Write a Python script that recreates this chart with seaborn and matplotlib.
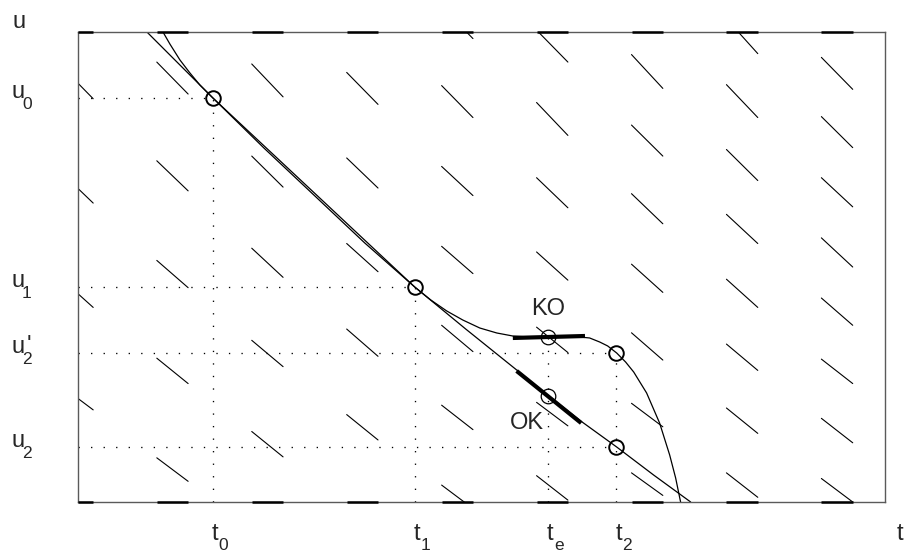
import numpy as np
import pandas as pd
import matplotlib
matplotlib.use("Agg")
import matplotlib.pyplot as plt
import matplotlib.transforms as mtransforms
import seaborn as sns

# ---------------- data ----------------
# tick positions / labels (main letter, subscript)
t_ticks = [1.42, 3.55, 4.95, 5.67]
t_main = ["t", "t", "t", "t"]
t_subs = ["0", "1", "e", "2"]
u_ticks = [0.59, 1.59, 2.29, 4.30]
u_main = ["u", "u", "u", "u"]
u_subs = ["2", "2", "1", "0"]
u_primes = ["", "'", "", ""]

t0, t1, te, t2 = t_ticks
u2, u2p, u1, u0 = u_ticks
ko_u = 1.76
ok_u = 1.13

# direction field: column centres and start/end u of each short segment
field_t = [0, 1, 2, 3, 4, 5, 6, 7, 8]
field_u_start = [
    [4.63, 3.50, 2.37, 1.23],
    [4.68, 3.63, 2.57, 1.53, 0.47],
    [4.66, 3.68, 2.70, 1.72, 0.75],
    [4.57, 3.66, 2.75, 1.84, 0.93],
    [5.27, 4.43, 3.57, 2.72, 1.88, 1.03, 0.18],
    [5.02, 4.25, 3.45, 2.66, 1.86, 1.06, 0.28],
    [4.76, 4.01, 3.28, 2.53, 1.80, 1.05, 0.31],
    [5.14, 4.44, 3.75, 3.06, 2.37, 1.68, 1.00, 0.31],
    [4.73, 4.10, 3.45, 2.81, 2.17, 1.52, 0.89, 0.25],
]
field_u_end = [
    [4.29, 3.18, 2.07, 0.98],
    [4.34, 3.31, 2.28, 1.26, 0.22],
    [4.31, 3.35, 2.39, 1.44, 0.48],
    [4.23, 3.34, 2.45, 1.55, 0.66],
    [4.93, 4.09, 3.26, 2.43, 1.60, 0.77, -0.07],
    [4.68, 3.90, 3.13, 2.36, 1.59, 0.81, 0.02],
    [4.40, 3.68, 2.96, 2.23, 1.51, 0.80, 0.07],
    [4.77, 4.09, 3.42, 2.75, 2.07, 1.40, 0.73, 0.05],
    [4.39, 3.77, 3.14, 2.50, 1.88, 1.26, 0.63, 0.00],
]
seg_left = 0.17
seg_right = 0.16

# solution through u0 / u1 (almost straight)
lineA_t = [0.726, 1.421, 2.484, 3.547, 4.084, 4.621, 4.947, 5.295, 5.674, 6.063, 6.453]
lineA_u = [5.0, 4.298, 3.293, 2.287, 1.840, 1.404, 1.138, 0.862, 0.585, 0.287, 0.0]

# curved solution (KO branch)
curveB_t = [0.895, 0.968, 1.074, 1.179, 1.284, 1.421, 1.958, 2.484, 3.021, 3.547,
            3.716, 3.884, 4.053, 4.232, 4.411, 4.579, 4.758, 4.947, 5.126, 5.284,
            5.389, 5.495, 5.579, 5.674, 5.768, 5.853, 5.989, 6.126, 6.232, 6.295, 6.347]
curveB_u = [5.0, 4.872, 4.702, 4.564, 4.436, 4.298, 3.766, 3.266, 2.755, 2.287,
            2.149, 2.032, 1.936, 1.851, 1.798, 1.766, 1.755, 1.755, 1.755, 1.755,
            1.745, 1.702, 1.660, 1.585, 1.489, 1.383, 1.160, 0.840, 0.500, 0.255, 0.0]

# thick slope segments
ko_seg_t = [4.58, 5.34]
ko_seg_u = [1.745, 1.766]
ok_seg_t = [4.62, 5.30]
ok_seg_u = [1.394, 0.840]

x_lim = (0, 8.5)
y_lim = (0, 5)

# ---------------- style ----------------
sns.set_theme(style="white")
plt.rcParams["font.family"] = ["Liberation Sans", "DejaVu Sans"]

W, H, DPI = 905, 554, 100
fig = plt.figure(figsize=(W / DPI, H / DPI), dpi=DPI)
ax = fig.add_axes([78 / W, 52 / H, 807 / W, 470 / H])
ax.set_xlim(*x_lim)
ax.set_ylim(*y_lim)

# direction field via seaborn
rows = []
sid = 0
for tc, us, ue in zip(field_t, field_u_start, field_u_end):
    for a, b in zip(us, ue):
        rows.append({"seg": sid, "t": tc - seg_left, "u": a})
        rows.append({"seg": sid, "t": tc + seg_right, "u": b})
        sid += 1
field_df = pd.DataFrame(rows)
sns.lineplot(data=field_df, x="t", y="u", units="seg", estimator=None, sort=False,
             color="black", lw=0.8, ax=ax, legend=False)

# boundary artefacts (segments flattened on the frame)
for tc in field_t:
    xs = np.clip([tc - seg_left, tc + seg_right], *x_lim)
    for yb in y_lim:
        ax.plot(xs, [yb, yb], color="black", lw=1.8, clip_on=False, zorder=4,
                solid_capstyle="butt")

# dotted guides
dot = (0, (1, 8.5))
guide_kw = dict(color="black", lw=0.95, ls=dot)
for t, u in [(t0, u0), (t1, u1), (t2, u2p), (t2, u2)]:
    ax.plot([0, t], [u, u], **guide_kw)
for t, u in [(t0, u0), (t1, u1), (te, ko_u), (t2, u2p)]:
    ax.plot([t, t], [0, u], **guide_kw)

# solution curves
curves = pd.concat([
    pd.DataFrame({"t": lineA_t, "u": lineA_u, "c": "A"}),
    pd.DataFrame({"t": curveB_t, "u": curveB_u, "c": "B"}),
])
sns.lineplot(data=curves, x="t", y="u", units="c", estimator=None, sort=False,
             color="black", lw=0.9, ax=ax, legend=False)

# thick slopes
ax.plot(ko_seg_t, ko_seg_u, color="black", lw=3.0, solid_capstyle="butt", zorder=5)
ax.plot(ok_seg_t, ok_seg_u, color="black", lw=3.0, solid_capstyle="butt", zorder=5)

# circles
ax.plot([t0, t1, t2, t2], [u0, u1, u2p, u2], ls="none", marker="o", ms=10.5,
        mfc="none", mec="black", mew=1.4, zorder=6)
ax.plot([te, te], [ko_u, ok_u], ls="none", marker="o", ms=10.5,
        mfc="none", mec="black", mew=0.9, zorder=6)

ax.text(4.947, 2.053, "KO", ha="center", va="center", fontsize=17)
ax.text(4.726, 0.840, "OK", ha="center", va="center", fontsize=17)

# frame
for s in ax.spines.values():
    s.set_visible(True)
    s.set_color("#5a5a5a")
    s.set_linewidth(1.0)

ax.set_xticks([])
ax.set_yticks([])
ax.set_xlabel("")
ax.set_ylabel("")

# tick labels with MATLAB-like large, low subscripts
MAIN_FS, SUB_FS = 17, 12.5


def px(dx, dy):
    return mtransforms.ScaledTranslation(dx / DPI, dy / DPI, fig.dpi_scale_trans)


x_base = 1 - 540 / H
xb = mtransforms.blended_transform_factory(ax.transData, fig.transFigure)
for t, m, s in zip(t_ticks, t_main, t_subs):
    ax.text(t, x_base, m, fontsize=MAIN_FS, ha="left", va="baseline",
            transform=xb + px(-1, 0), clip_on=False)
    ax.text(t, x_base, s, fontsize=SUB_FS, ha="left", va="baseline",
            transform=xb + px(6, -10), clip_on=False)

yb_tr = mtransforms.blended_transform_factory(fig.transFigure, ax.transData)
for u, m, s, p in zip(u_ticks, u_main, u_subs, u_primes):
    ax.text(11 / W, u, m, fontsize=MAIN_FS, ha="left", va="baseline",
            transform=yb_tr, clip_on=False)
    ax.text(11 / W, u, s, fontsize=SUB_FS, ha="left", va="baseline",
            transform=yb_tr + px(11, -11.5), clip_on=False)
    if p:
        ax.text(11 / W, u, p, fontsize=MAIN_FS, ha="left", va="baseline",
                transform=yb_tr + px(16, 1), clip_on=False)

fig.text(12 / W, 1 - 28 / H, "u", fontsize=MAIN_FS, va="baseline", ha="left")
fig.text(897 / W, 1 - 540 / H, "t", fontsize=MAIN_FS, va="baseline", ha="left")

fig.savefig("out.png", dpi=DPI)
